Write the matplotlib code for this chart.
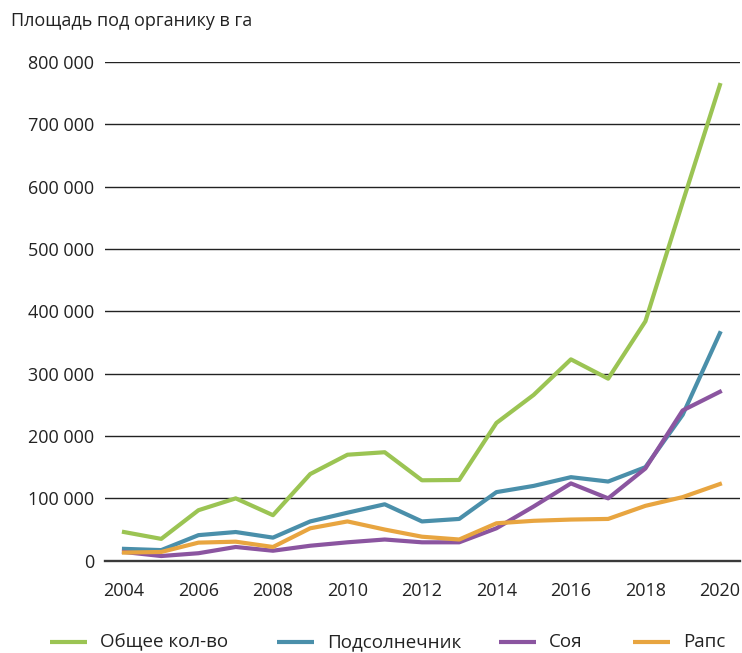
import matplotlib
matplotlib.use('Agg')
import matplotlib.pyplot as plt
from matplotlib.lines import Line2D
from matplotlib.ticker import FuncFormatter

plt.rcParams['font.family'] = ['Open Sans', 'DejaVu Sans']

years = list(range(2004, 2021))
total = [46000, 35000, 81000, 100000, 73000, 139000, 170000, 174000, 129000, 129500,
         221000, 266000, 323000, 292000, 384000, 575000, 763000]
sunflower = [19000, 17000, 41000, 46000, 37000, 63000, 77000, 90500, 63000, 67000,
             110000, 120000, 134000, 127000, 150000, 234000, 365000]
soy = [14000, 7500, 12000, 22000, 16000, 24000, 29500, 34000, 29500, 29500,
       52000, 87000, 124000, 100000, 148000, 241000, 271000]
rapeseed = [13000, 14000, 29000, 30500, 22000, 52000, 63000, 50000, 38500, 34000,
            60000, 64000, 66000, 67000, 88000, 102000, 123000]

names = ['Общее кол-во', 'Подсолнечник', 'Соя', 'Рапс']
colors = ['#9BC453', '#4A8FAA', '#8B55A0', '#E8A540']

W, H = 742, 653
fig = plt.figure(figsize=(W / 100, H / 100), dpi=100)
ax = fig.add_axes([105 / W, (H - 560.7) / H, 635 / W, (560.7 - 62) / H])

for series, name, c in zip([total, sunflower, soy, rapeseed], names, colors):
    ax.plot(years, series, color=c, lw=3, label=name, zorder=3)

ax.set_xlim(2003.49, 2020.54)
ax.set_ylim(0, 800000)
ax.set_xticks(range(2004, 2021, 2))
ax.set_yticks(range(0, 800001, 100000))
ax.yaxis.set_major_formatter(FuncFormatter(lambda v, p: f'{int(v):,}'.replace(',', ' ')))
ax.grid(axis='y', color='#222222', lw=1.0)
ax.tick_params(length=0, labelsize=13, colors='#222222')
ax.tick_params(axis='x', pad=15)
ax.tick_params(axis='y', pad=8)
for s in ['top', 'right', 'left']:
    ax.spines[s].set_visible(False)
ax.spines['bottom'].set_color('#3a3a3a')
ax.spines['bottom'].set_linewidth(1.7)

fig.text(11 / W, 1 - 21 / H, 'Площадь под органику в га', fontsize=13,
         color='#222222', va='center', ha='left')

# legend row along the bottom edge
leg_x = [50, 277, 499, 633]
leg_y = 1 - 642 / H
for x0, name, c in zip(leg_x, names, colors):
    fig.add_artist(Line2D([x0 / W, (x0 + 37) / W], [leg_y, leg_y], color=c, lw=3,
                          solid_capstyle='butt', transform=fig.transFigure))
    fig.text((x0 + 50) / W, leg_y, name, fontsize=13.5, color='#222222',
             va='center', ha='left')

fig.savefig('out.png', dpi=100)
